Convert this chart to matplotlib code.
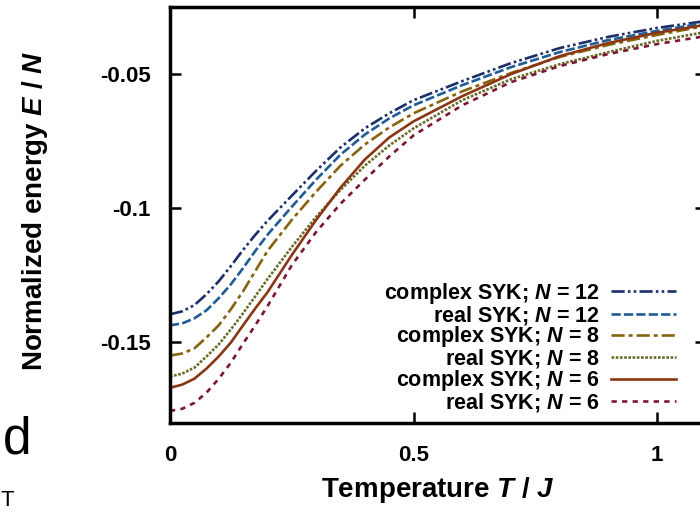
import matplotlib
matplotlib.use("Agg")
import matplotlib.pyplot as plt

plt.rcParams['font.family'] = ['Liberation Sans', 'DejaVu Sans']
plt.rcParams['font.weight'] = 'bold'
plt.rcParams['axes.unicode_minus'] = False
plt.rcParams['mathtext.fontset'] = 'custom'
plt.rcParams['mathtext.it'] = 'Liberation Sans:italic:bold'
plt.rcParams['mathtext.rm'] = 'Liberation Sans:bold'

# Temperature T/J
T = [0, 0.025, 0.05, 0.075, 0.1, 0.125, 0.15, 0.175, 0.2, 0.25, 0.3, 0.35, 0.4,
     0.45, 0.5, 0.6, 0.7, 0.8, 0.9, 1.0, 1.1]

# Normalized energy E/N
complex12 = [-0.1395, -0.1384, -0.1361, -0.1320, -0.1272, -0.1215, -0.1155, -0.1099,
             -0.1047, -0.0953, -0.0860, -0.0773, -0.0702, -0.0646, -0.0597, -0.0526,
             -0.0459, -0.0403, -0.0361, -0.0328, -0.0302]
real12 = [-0.1436, -0.1429, -0.1410, -0.1380, -0.1335, -0.1283, -0.1223, -0.1159,
          -0.1099, -0.0994, -0.0893, -0.0800, -0.0725, -0.0665, -0.0616, -0.0541,
          -0.0474, -0.0418, -0.0373, -0.0339, -0.0309]
complex8 = [-0.1549, -0.1541, -0.1522, -0.1481, -0.1436, -0.1376, -0.1309, -0.1234,
            -0.1159, -0.1043, -0.0938, -0.0841, -0.0762, -0.0699, -0.0646, -0.0564,
            -0.0496, -0.0436, -0.0391, -0.0354, -0.0320]
real8 = [-0.1627, -0.1616, -0.1594, -0.1552, -0.1507, -0.1451, -0.1391, -0.1328,
         -0.1264, -0.1144, -0.1032, -0.0931, -0.0841, -0.0766, -0.0702, -0.0597,
         -0.0519, -0.0463, -0.0418, -0.0376, -0.0343]
complex6 = [-0.1669, -0.1657, -0.1635, -0.1597, -0.1552, -0.1500, -0.1436, -0.1373,
            -0.1313, -0.1174, -0.1043, -0.0923, -0.0818, -0.0736, -0.0676, -0.0582,
            -0.0500, -0.0433, -0.0384, -0.0346, -0.0316]
real6 = [-0.1755, -0.1747, -0.1725, -0.1687, -0.1635, -0.1575, -0.1504, -0.1436,
         -0.1365, -0.1212, -0.1088, -0.0983, -0.0893, -0.0807, -0.0728, -0.0616,
         -0.0530, -0.0470, -0.0425, -0.0388, -0.0358]

series = [
    (complex12, "complex SYK; $N$ = 12", "#1c2f6b", (0, (5, 1.2, 1, 1.2, 1, 1.2))),
    (real12, "real SYK; $N$ = 12", "#1f5c96", (0, (3.5, 1.2))),
    (complex8, "complex SYK; $N$ = 8", "#86640e", (0, (5, 1.5, 1.5, 1.5))),
    (real8, "real SYK; $N$ = 8", "#6a6a2a", (0, (1, 0.6))),
    (complex6, "complex SYK; $N$ = 6", "#8a3614", "-"),
    (real6, "real SYK; $N$ = 6", "#7d1632", (0, (2, 2))),
]

fig = plt.figure(figsize=(7, 5.12), dpi=100)
ax = fig.add_axes([170 / 700, 1 - 423 / 512, 536 / 700, 416 / 512])

for vals, lab, col, ls in series:
    ax.plot(T, vals, color=col, linestyle=ls, linewidth=1.9, label=lab)

ax.set_xlim(0, 1.1)
ax.set_ylim(-0.18, -0.025)
ax.set_xticks([0, 0.5, 1])
ax.set_xticklabels(["0", "0.5", "1"])
ax.set_yticks([-0.15, -0.1, -0.05])
ax.set_yticklabels(["-0.15", "-0.1", "-0.05"])
ax.tick_params(direction='in', length=8, width=1.8, top=True, right=True,
               labelsize=16, pad=14)
ax.tick_params(axis='x', pad=16)
for s in ax.spines.values():
    s.set_linewidth(2.5)

fig.text(438 / 700, 1 - 490 / 512, "Temperature $T$ / $J$", ha='center', va='center',
         fontsize=20)
fig.text(35 / 700, 1 - 211 / 512, "Normalized energy $E$ / $N$", ha='center', va='center',
         rotation=90, fontsize=20)

leg = ax.legend(loc='lower right', bbox_to_anchor=(676 / 700, 1 - 414 / 512),
                bbox_transform=fig.transFigure, frameon=False, markerfirst=False,
                fontsize=15.5, handlelength=3.0, handletextpad=0.55, labelspacing=-0.1,
                borderpad=0, borderaxespad=0)

fig.text(3 / 700, 1 - 453 / 512, "d", fontsize=37, fontweight='normal', ha='left',
         va='baseline')
fig.text(7 / 700, 1 - 506 / 512, "T", fontsize=16, fontweight='normal', ha='center',
         va='baseline')

fig.savefig("out.png", dpi=100)
